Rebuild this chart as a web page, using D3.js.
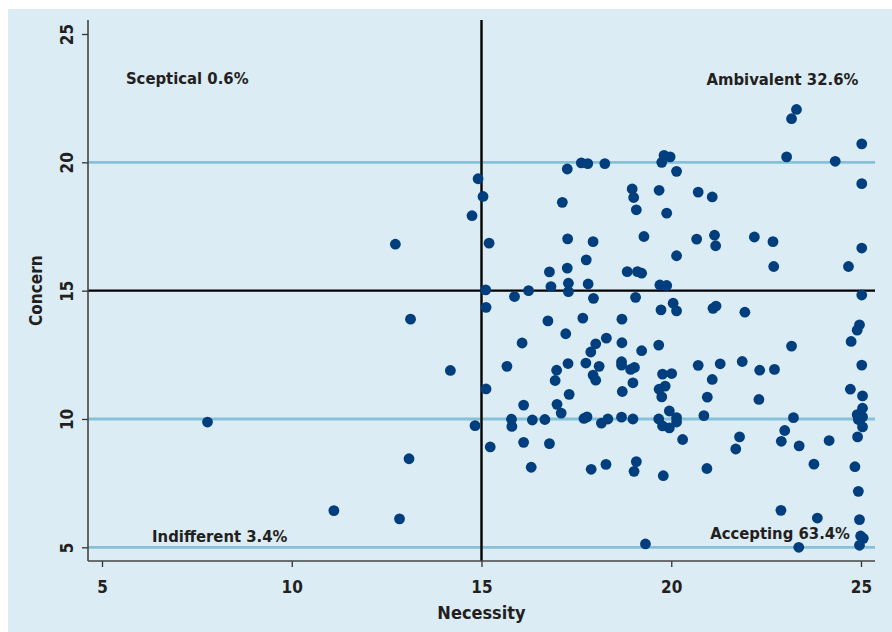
<!DOCTYPE html>
<html>
<head>
<meta charset="utf-8">
<script src="https://d3js.org/d3.v7.min.js"></script>
<style>
    body { margin: 0; background: #ffffff; }
    svg text {
        font-family: "DejaVu Sans Condensed", "DejaVu Sans", sans-serif;
        font-stretch: condensed;
        font-weight: bold;
        fill: #231f20;
    }
</style>
</head>
<body>
<script>

// scores, one entry per patient
const necessity = [
    17.26, 17.63, 17.80, 18.25, 19.81, 19.97, 19.75, 20.14, 14.91, 15.04,
    14.75, 17.13, 18.97, 19.01, 19.08, 19.68, 19.88, 15.20, 17.27, 17.94,
    19.28, 20.14, 17.76, 16.79, 17.26, 18.84, 19.11, 19.22, 15.11, 16.24,
    16.83, 17.29, 17.29, 17.81, 19.70, 19.88, 15.87, 17.95, 19.06, 23.30,
    23.17, 25.02, 23.04, 24.32, 25.02, 20.71, 21.08, 20.67, 21.14, 21.17,
    22.19, 22.68, 22.70, 24.67, 25.02, 25.02, 15.12, 16.75, 17.67, 18.70,
    19.73, 20.05, 20.14, 17.22, 16.07, 18.29, 18.01, 17.88, 18.70, 19.22,
    19.67, 15.67, 16.98, 17.28, 17.75, 18.10, 18.69, 18.69, 18.93, 19.03,
    16.94, 17.94, 18.01, 18.99, 19.77, 20.01, 19.84, 19.68, 19.75, 15.12,
    17.31, 18.71, 16.11, 16.99, 17.10, 15.79, 15.80, 16.34, 16.67, 17.70,
    17.78, 18.16, 18.33, 18.69, 18.99, 19.67, 19.77, 19.95, 19.95, 20.14,
    20.14, 14.83, 15.23, 16.11, 16.79, 21.10, 21.18, 21.94, 24.96, 24.90,
    24.74, 23.17, 20.71, 21.29, 21.87, 22.33, 22.72, 25.02, 21.08, 20.95,
    22.31, 24.72, 25.04, 25.04, 24.90, 25.04, 24.93, 25.04, 20.86, 23.22,
    20.30, 21.80, 22.99, 22.90, 23.37, 24.16, 24.91, 21.70, 16.31, 17.89,
    18.28, 19.08, 19.02, 19.79, 19.32, 20.94, 23.76, 24.84, 24.93, 22.89,
    23.85, 24.96, 24.99, 25.06, 24.96, 23.36, 12.73, 13.13, 14.18, 7.78,
    13.09, 11.11, 12.84
];
const concern = [
    19.74, 19.98, 19.95, 19.95, 20.27, 20.21, 20.00, 19.65, 19.36, 18.67,
    17.92, 18.44, 18.96, 18.63, 18.15, 18.91, 18.02, 16.85, 17.02, 16.91,
    17.11, 16.36, 16.20, 15.73, 15.88, 15.74, 15.74, 15.68, 15.03, 15.00,
    15.16, 15.29, 14.96, 15.26, 15.22, 15.20, 14.77, 14.70, 14.74, 22.06,
    21.70, 20.72, 20.21, 20.04, 19.17, 18.84, 18.65, 17.01, 17.16, 16.75,
    17.09, 16.91, 15.94, 15.94, 16.66, 14.83, 14.35, 13.82, 13.93, 13.89,
    14.25, 14.51, 14.21, 13.32, 12.96, 13.15, 12.93, 12.61, 12.97, 12.66,
    12.88, 12.05, 11.90, 12.16, 12.18, 12.05, 12.23, 12.10, 11.93, 12.01,
    11.50, 11.71, 11.51, 11.41, 11.75, 11.77, 11.28, 11.16, 10.86, 11.17,
    10.96, 11.07, 10.54, 10.57, 10.23, 9.99, 9.71, 9.96, 9.98, 10.02,
    10.08, 9.84, 10.00, 10.07, 10.00, 10.00, 9.73, 9.65, 10.31, 10.05,
    9.88, 9.74, 8.91, 9.09, 9.04, 14.31, 14.40, 14.16, 13.67, 13.46,
    13.02, 12.84, 12.09, 12.15, 12.24, 11.90, 11.93, 12.10, 11.54, 10.85,
    10.76, 11.16, 10.90, 10.42, 10.17, 10.08, 9.98, 9.69, 10.13, 10.05,
    9.20, 9.30, 9.55, 9.13, 8.95, 9.16, 9.30, 8.83, 8.12, 8.04,
    8.23, 8.34, 7.96, 7.79, 5.13, 8.07, 8.24, 8.14, 7.18, 6.44,
    6.14, 6.08, 5.44, 5.35, 5.08, 5.00, 16.81, 13.89, 11.89, 9.88,
    8.45, 6.43, 6.11
];

const xTicks = [5, 10, 15, 20, 25];
const yTicks = [5, 10, 15, 20, 25];
const refLines = [5, 10, 20];   // thin blue guides
const cutOff = 15;              // black quadrant lines

const quadrantLabels = ["Sceptical 0.6%", "Ambivalent 32.6%", "Indifferent 3.4%", "Accepting 63.4%"];
const quadrantSpots = [[5.63, 23.05], [24.93, 23.02], [6.32, 5.21], [24.71, 5.31]];

const width = 892;
const height = 632;

const svg = d3.select("body").append("svg")
    .attr("width", width)
    .attr("height", height);

// panel
svg.append("rect")
    .attr("x", 8).attr("y", 9)
    .attr("width", width - 8).attr("height", height - 9)
    .attr("fill", "#dbecf4");

const plotLeft = 88, plotRight = 875, plotTop = 20, plotBottom = 561;

const x = d3.scaleLinear().domain([5, 25]).range([102, 861]);
const y = d3.scaleLinear().domain([5, 25]).range([547.3, 34]);

// guide lines
svg.selectAll(".ref").data(refLines).join("line")
    .attr("x1", plotLeft).attr("x2", plotRight)
    .attr("y1", d => y(d)).attr("y2", d => y(d))
    .attr("stroke", "#86c1d8")
    .attr("stroke-width", 2.8);

svg.append("line")
    .attr("x1", plotLeft).attr("x2", plotRight)
    .attr("y1", y(cutOff)).attr("y2", y(cutOff))
    .attr("stroke", "#000").attr("stroke-width", 2.4);
svg.append("line")
    .attr("x1", x(cutOff)).attr("x2", x(cutOff))
    .attr("y1", plotTop).attr("y2", plotBottom)
    .attr("stroke", "#000").attr("stroke-width", 2.4);

// axes
const xAxis = svg.append("g")
    .attr("transform", `translate(0,${plotBottom})`)
    .call(d3.axisBottom(x).tickValues(xTicks).tickSize(6).tickPadding(11));
const yAxis = svg.append("g")
    .attr("transform", `translate(${plotLeft},0)`)
    .call(d3.axisLeft(y).tickValues(yTicks).tickSize(6).tickPadding(6));

[xAxis, yAxis].forEach(g => {
    g.select(".domain").remove();
    g.selectAll(".tick line").attr("stroke", "#333").attr("stroke-width", 1.3);
    g.selectAll("text").attr("font-size", 17).attr("fill", "#231f20");
});
xAxis.selectAll("text").attr("dy", "0.9em");

// rotate the y tick labels to read upwards
yAxis.selectAll(".tick text")
    .attr("x", null).attr("dy", null)
    .attr("text-anchor", "middle")
    .attr("transform", "translate(-15,0) rotate(-90)");

svg.append("line")
    .attr("x1", plotLeft).attr("x2", plotRight)
    .attr("y1", plotBottom).attr("y2", plotBottom)
    .attr("stroke", "#444").attr("stroke-width", 1.6);
svg.append("line")
    .attr("x1", plotLeft).attr("x2", plotLeft)
    .attr("y1", plotTop).attr("y2", plotBottom)
    .attr("stroke", "#444").attr("stroke-width", 1.6);

// points
const points = necessity.map((n, i) => [n, concern[i]]);
svg.selectAll(".dot").data(points).join("circle")
    .attr("cx", d => x(d[0]))
    .attr("cy", d => y(d[1]))
    .attr("r", 5.4)
    .attr("fill", "#003e7e");

// quadrant labels
svg.selectAll(".quad").data(quadrantLabels).join("text")
    .attr("x", (d, i) => x(quadrantSpots[i][0]))
    .attr("y", (d, i) => y(quadrantSpots[i][1]))
    .attr("text-anchor", (d, i) => i % 2 ? "end" : "start")
    .attr("font-size", 16.5)
    .text(d => d);

// titles
svg.append("text")
    .attr("x", (plotLeft + plotRight) / 2).attr("y", 619)
    .attr("text-anchor", "middle")
    .attr("font-size", 18)
    .text("Necessity");

svg.append("text")
    .attr("transform", `translate(42,${y(15)}) rotate(-90)`)
    .attr("text-anchor", "middle")
    .attr("font-size", 17)
    .text("Concern");

</script>
</body>
</html>
